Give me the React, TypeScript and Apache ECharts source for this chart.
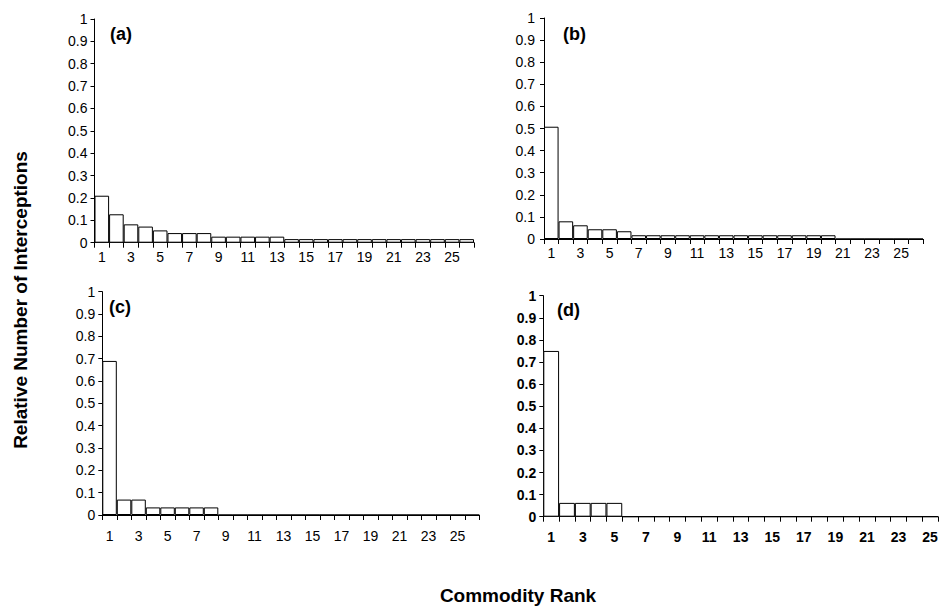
import React, { useEffect, useRef } from "react";
import * as echarts from "echarts";

const ranks26 = Array.from({ length: 26 }, (_, i) => String(i + 1));
const ranks25 = Array.from({ length: 25 }, (_, i) => String(i + 1));

const valuesA = [0.21, 0.127, 0.082, 0.072, 0.055, 0.043, 0.043, 0.043, 0.027, 0.027, 0.027, 0.027, 0.027,
  0.016, 0.016, 0.016, 0.016, 0.016, 0.016, 0.016, 0.016, 0.016, 0.016, 0.016, 0.016, 0.016];
const valuesB = [0.508, 0.08, 0.062, 0.044, 0.044, 0.035,
  0.017, 0.017, 0.017, 0.017, 0.017, 0.017, 0.017, 0.017, 0.017, 0.017, 0.017, 0.017, 0.017, 0.017,
  0, 0, 0, 0, 0, 0];
const valuesC = [0.69, 0.069, 0.069, 0.034, 0.034, 0.034, 0.034, 0.034,
  0, 0, 0, 0, 0, 0, 0, 0, 0, 0, 0, 0, 0, 0, 0, 0, 0, 0];
const valuesD = [0.75, 0.0625, 0.0625, 0.0625, 0.0625,
  0, 0, 0, 0, 0, 0, 0, 0, 0, 0, 0, 0, 0, 0, 0, 0, 0, 0, 0, 0];

const panelLabels = ["(a)", "(b)", "(c)", "(d)"];
const yAxisTitle = "Relative Number of Interceptions";
const xAxisTitle = "Commodity Rank";

export default function App() {
  const ref = useRef<HTMLDivElement>(null);
  useEffect(() => {
    if (!ref.current) return;
    const chart = echarts.init(ref.current, null, { renderer: "svg" });
    const font = "'Liberation Sans', Arial, Helvetica, sans-serif";
    const grids = [
      { left: 94.5, top: 19, width: 379.5, height: 223.7 },
      { left: 544, top: 18, width: 379, height: 221 },
      { left: 102.3, top: 291.7, width: 377, height: 223.3 },
      { left: 543.3, top: 295.7, width: 394.7, height: 221 },
    ];
    const cats = [ranks26, ranks26, ranks26, ranks25];
    const vals = [valuesA, valuesB, valuesC, valuesD];
    const bold = [false, false, false, true];
    const xMargin = [7, 7, 14, 13];
    const yMargin = [7, 9, 7, 7];
    const labelPos = [
      [110, 34],
      [563, 34],
      [109, 307],
      [557, 310],
    ];
    chart.setOption({
      animation: false,
      backgroundColor: "#fff",
      grid: grids.map((g) => ({ ...g, containLabel: false })),
      xAxis: cats.map((c, i) => ({
        type: "category",
        gridIndex: i,
        data: c,
        boundaryGap: true,
        axisLine: { lineStyle: { color: "#000", width: 1 } },
        axisTick: { show: true, interval: 0, length: 5, lineStyle: { color: "#000" } },
        axisLabel: {
          interval: 1,
          color: "#000",
          fontSize: 14,
          fontFamily: font,
          fontWeight: bold[i] ? "bold" : "normal",
          margin: xMargin[i],
        },
        splitLine: { show: false },
      })),
      yAxis: cats.map((_, i) => ({
        type: "value",
        gridIndex: i,
        min: 0,
        max: 1,
        interval: 0.1,
        axisLine: { show: true, lineStyle: { color: "#000", width: 1 } },
        axisTick: { show: true, length: 4, lineStyle: { color: "#000" } },
        axisLabel: {
          color: "#000",
          fontSize: 14,
          fontFamily: font,
          fontWeight: bold[i] ? "bold" : "normal",
          margin: yMargin[i],
        },
        splitLine: { show: false },
      })),
      series: vals.map((v, i) => ({
        type: "bar",
        xAxisIndex: i,
        yAxisIndex: i,
        data: v,
        barWidth: "100%",
        barCategoryGap: "0%",
        itemStyle: { color: "#fff", borderColor: "#000", borderWidth: 1 },
        silent: true,
      })),
      graphic: [
        ...panelLabels.map((t, i) => ({
          type: "text",
          x: labelPos[i][0],
          y: labelPos[i][1],
          style: { text: t, font: `bold 18px ${font}`, fill: "#000", textVerticalAlign: "middle" },
        })),
        {
          type: "text",
          x: 20,
          y: 300,
          rotation: Math.PI / 2,
          style: {
            text: yAxisTitle,
            font: `bold 19px ${font}`,
            fill: "#000",
            textAlign: "center",
            textVerticalAlign: "middle",
          },
        },
        {
          type: "text",
          x: 518,
          y: 595,
          style: {
            text: xAxisTitle,
            font: `bold 19px ${font}`,
            fill: "#000",
            textAlign: "center",
            textVerticalAlign: "middle",
          },
        },
      ],
    });
    return () => chart.dispose();
  }, []);
  return (
    <div
      ref={ref}
      style={{ position: "fixed", left: 0, top: 0, width: 943, height: 608, background: "#fff" }}
    />
  );
}
